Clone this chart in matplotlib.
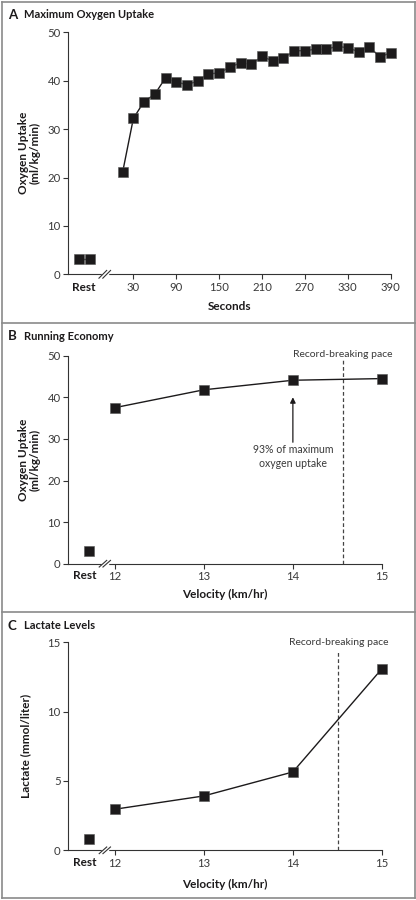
import matplotlib
matplotlib.use("Agg")
import matplotlib.pyplot as plt
from matplotlib.lines import Line2D

plt.rcParams['font.family'] = ['Lato', 'DejaVu Sans']
plt.rcParams['font.size'] = 8

# Panel A: maximum oxygen uptake during the test
rest_a = [3.2, 3.2]
seconds = [15, 30, 45, 60, 75, 90, 105, 120, 135, 150, 165, 180, 195,
           210, 225, 240, 255, 270, 285, 300, 315, 330, 345, 360, 375, 390]
vo2_a = [21.1, 32.2, 35.7, 37.2, 40.6, 39.7, 39.2, 39.9, 41.4, 41.6, 42.8,
         43.7, 43.4, 45.0, 44.1, 44.6, 46.2, 46.2, 46.5, 46.5, 47.1, 46.8,
         46.0, 47.0, 44.9, 45.8]
sec_ticks = [30, 90, 150, 210, 270, 330, 390]

# Panel B: running economy
velocity = [12, 13, 14, 15]
rest_b = 3.1
vo2_b = [37.5, 41.8, 44.1, 44.5]

# Panel C: lactate
rest_c = 0.8
lactate = [2.96, 3.92, 5.65, 13.1]

pace_b = 14.56
pace_c = 14.51

INK = '#1c1a1b'
TICK = '#3a3a3a'
FRAME = '#8a8a8a'

fig = plt.figure(figsize=(4.16, 9.0), dpi=100)
W, H = 416.0, 900.0


def add_axes(left, right, top, bottom):
    return fig.add_axes([left / W, 1 - bottom / H, (right - left) / W, (bottom - top) / H])


def style(ax):
    for s in ['top', 'right']:
        ax.spines[s].set_visible(False)
    for s in ['left', 'bottom']:
        ax.spines[s].set_linewidth(0.8)
        ax.spines[s].set_color('#333333')
    ax.tick_params(direction='out', length=3.5, width=0.8, color='#333333',
                   labelsize=8.2, labelcolor=TICK, pad=2)
    ax.patch.set_alpha(0)


def axis_break(ax, xdata):
    xa = ax.transLimits.transform((xdata, 0))[0]
    # white gap then two slashes
    ax.add_line(Line2D([xa - 0.006, xa + 0.006], [0, 0], transform=ax.transAxes,
                       color='white', lw=2.5, clip_on=False, zorder=5))
    for off in (-0.006, 0.006):
        ax.add_line(Line2D([xa + off - 0.012, xa + off + 0.012], [-0.016, 0.016],
                           transform=ax.transAxes, color='#333333', lw=0.8,
                           clip_on=False, zorder=6))


mk = dict(marker='s', markersize=6.8, color=INK, markerfacecolor=INK,
          markeredgecolor='#555555', markeredgewidth=0.4, lw=1.0)

# ---------- Panel A ----------
axA = add_axes(68.3, 390.7, 32.3, 274.3)
style(axA)
axA.set_xlim(-61, 390)
axA.set_ylim(0, 50)
axA.plot([-46, -31], rest_a, clip_on=False, zorder=4, **mk)
axA.plot(seconds, vo2_a, clip_on=False, zorder=4, **mk)
axA.set_xticks(sec_ticks)
axA.set_yticks([0, 10, 20, 30, 40, 50])
axA.text(-39, -1.5, 'Rest', ha='center', va='top', fontsize=8.5, fontweight='bold',
         color=INK, transform=axA.transData)
axA.set_xlabel('Seconds', fontsize=8.5, fontweight='bold', color=INK, labelpad=6)
axA.set_ylabel('Oxygen Uptake\n(ml/kg/min)', fontsize=8.5, fontweight='bold',
               color=INK, labelpad=5, linespacing=1.1)
axis_break(axA, -10)

# ---------- Panel B ----------
axB = add_axes(68.3, 382.0, 355.7, 563.7)
style(axB)
axB.set_xlim(11.48, 15)
axB.set_ylim(0, 50)
axB.plot([11.71], [rest_b], clip_on=False, zorder=4, **mk)
axB.plot(velocity, vo2_b, clip_on=False, zorder=4, **mk)
axB.set_xticks(velocity)
axB.set_yticks([0, 10, 20, 30, 40, 50])
axB.text(11.66, -1.5, 'Rest', ha='center', va='top', fontsize=8.5, fontweight='bold',
         color=INK)
axB.set_xlabel('Velocity (km/hr)', fontsize=8.5, fontweight='bold', color=INK, labelpad=5)
axB.set_ylabel('Oxygen Uptake\n(ml/kg/min)', fontsize=8.5, fontweight='bold',
               color=INK, labelpad=5, linespacing=1.1)
axB.plot([pace_b, pace_b], [0, 49], ls=(0, (3, 2)), color='#444444', lw=0.9)
axB.text(pace_b, 50.3, 'Record-breaking pace', ha='center', va='center',
         fontsize=7.5, color=TICK, clip_on=False)
axB.annotate('', xy=(14, 40.0), xytext=(14, 29.2),
             arrowprops=dict(arrowstyle='-|>', color=INK, lw=0.9,
                             mutation_scale=8, shrinkA=0, shrinkB=0))
axB.text(14, 25.8, '93% of maximum\noxygen uptake', ha='center', va='center',
         fontsize=7.6, color=TICK, linespacing=1.3)
axis_break(axB, 11.89)

# ---------- Panel C ----------
axC = add_axes(68.3, 382.0, 642.3, 850.3)
style(axC)
axC.set_xlim(11.48, 15)
axC.set_ylim(0, 15)
axC.plot([11.71], [rest_c], clip_on=False, zorder=4, **mk)
axC.plot(velocity, lactate, clip_on=False, zorder=4, **mk)
axC.set_xticks(velocity)
axC.set_yticks([0, 5, 10, 15])
axC.text(11.66, -0.45, 'Rest', ha='center', va='top', fontsize=8.5, fontweight='bold',
         color=INK)
axC.set_xlabel('Velocity (km/hr)', fontsize=8.5, fontweight='bold', color=INK, labelpad=7)
axC.set_ylabel('Lactate (mmol/liter)', fontsize=8.5, fontweight='bold',
               color=INK, labelpad=12)
axC.plot([pace_c, pace_c], [0, 14.45], ls=(0, (3, 2)), color='#444444', lw=0.9)
axC.text(pace_c, 15.0, 'Record-breaking pace', ha='center', va='center',
         fontsize=7.5, color=TICK, clip_on=False)
axis_break(axC, 11.89)

# panel titles
for ypx, letter, title in [(15, 'A', 'Maximum Oxygen Uptake'),
                           (336, 'B', 'Running Economy'),
                           (625.5, 'C', 'Lactate Levels')]:
    fig.text(8 / W, 1 - ypx / H, letter, fontsize=9.5, fontweight='bold',
             color=INK, va='center', ha='left')
    fig.text(24 / W, 1 - ypx / H, title, fontsize=8, fontweight='bold',
             color=INK, va='center', ha='left')

# outer frame and separators
fx0, fx1 = 1.5 / W, 414.5 / W
for y in [1.5, 322.7, 612.2, 898.0]:
    fig.add_artist(Line2D([fx0, fx1], [1 - y / H, 1 - y / H], color=FRAME, lw=1.2))
for x in [fx0, fx1]:
    fig.add_artist(Line2D([x, x], [1 - 1.5 / H, 1 - 898.0 / H], color=FRAME, lw=1.2))

fig.savefig('out.png', dpi=100)
